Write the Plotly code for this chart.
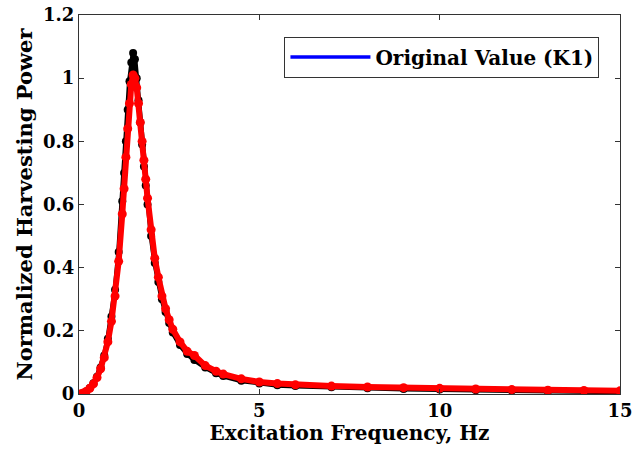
import plotly.graph_objects as go

freq = [0, 0.1, 0.2, 0.3, 0.4, 0.5, 0.6, 0.7, 0.8, 0.9, 1.0, 1.1, 1.2, 1.25, 1.3,
        1.35, 1.4, 1.45, 1.5, 1.55, 1.6, 1.65, 1.7, 1.75, 1.8, 1.85, 1.9, 2.0, 2.1,
        2.2, 2.3, 2.4, 2.5, 2.6, 2.8, 3.0, 3.2, 3.5, 3.8, 4.0, 4.5, 5, 5.5, 6, 7,
        8, 9, 10, 11, 12, 13, 14, 15]

power_black = [0.0, 0.002, 0.008, 0.019, 0.034, 0.055, 0.084, 0.122, 0.175, 0.245, 0.33,
               0.45, 0.61, 0.70, 0.80, 0.90, 0.99, 1.05, 1.08, 1.06, 1.0, 0.93, 0.86,
               0.79, 0.72, 0.66, 0.60, 0.50, 0.415, 0.355, 0.30, 0.26, 0.225, 0.195,
               0.155, 0.127, 0.108, 0.084, 0.066, 0.057, 0.042, 0.033, 0.028, 0.025,
               0.021, 0.018, 0.016, 0.014, 0.012, 0.011, 0.009, 0.008, 0.007]

power_blue = [0.0, 0.002, 0.008, 0.018, 0.032, 0.052, 0.08, 0.115, 0.165, 0.23, 0.31,
              0.42, 0.57, 0.65, 0.75, 0.84, 0.92, 0.98, 1.0, 1.0, 0.97, 0.92, 0.86,
              0.80, 0.74, 0.68, 0.62, 0.52, 0.43, 0.37, 0.31, 0.27, 0.235, 0.205,
              0.165, 0.135, 0.122, 0.09, 0.072, 0.063, 0.048, 0.038, 0.033, 0.029,
              0.025, 0.022, 0.02, 0.018, 0.016, 0.014, 0.012, 0.011, 0.01]

power_red = [0.0, 0.002, 0.008, 0.018, 0.032, 0.052, 0.08, 0.115, 0.165, 0.23, 0.31,
             0.42, 0.57, 0.65, 0.75, 0.84, 0.92, 0.98, 1.01, 1.0, 0.97, 0.92, 0.86,
             0.80, 0.74, 0.68, 0.62, 0.52, 0.43, 0.37, 0.31, 0.27, 0.235, 0.205,
             0.165, 0.135, 0.122, 0.09, 0.072, 0.063, 0.048, 0.038, 0.033, 0.029,
             0.025, 0.022, 0.02, 0.018, 0.016, 0.014, 0.012, 0.011, 0.01]

x_ticks = [0, 5, 10, 15]
y_ticks = [0, 0.2, 0.4, 0.6, 0.8, 1.0, 1.2]
y_tick_labels = ["0", "0.2", "0.4", "0.6", "0.8", "1", "1.2"]

FONT = "DejaVu Serif"

fig = go.Figure()
fig.add_trace(go.Scatter(x=freq, y=power_black, mode="lines+markers",
                         line=dict(color="black", width=5),
                         marker=dict(color="black", size=8),
                         showlegend=False))
fig.add_trace(go.Scatter(x=freq, y=power_blue, mode="lines",
                         line=dict(color="#0000ff", width=3.5),
                         name="Original Value (K1)"))
fig.add_trace(go.Scatter(x=freq, y=power_red, mode="lines+markers",
                         line=dict(color="#ff0000", width=6),
                         marker=dict(color="#ff0000", size=9),
                         showlegend=False))

axis_common = dict(showline=True, linecolor="#333333", linewidth=1, mirror="ticks",
                   ticks="inside", ticklen=5, tickcolor="#333333",
                   showgrid=False, zeroline=False, automargin=False,
                   tickfont=dict(family=FONT, size=18, color="black", weight="bold"))

fig.update_layout(
    width=635, height=449,
    margin=dict(l=79, r=15, t=15, b=55),
    plot_bgcolor="white", paper_bgcolor="white",
    xaxis=dict(range=[0, 15], tickvals=x_ticks,
               title=dict(text="<b>Excitation Frequency, Hz</b>", standoff=4,
                          font=dict(family=FONT, size=20, color="black")),
               **axis_common),
    yaxis=dict(range=[0, 1.2], tickvals=y_ticks, ticktext=y_tick_labels,
               title=dict(text="<b>Normalized Harvesting Power</b>", standoff=4,
                          font=dict(family=FONT, size=21, color="black")),
               **axis_common),
    legend=dict(x=0.962, y=0.943, xanchor="right", yanchor="top",
                bgcolor="white", bordercolor="#333333", borderwidth=1,
                itemwidth=80,
                font=dict(family=FONT, size=20, color="black", weight="bold")),
)

fig.write_html("out.html")
